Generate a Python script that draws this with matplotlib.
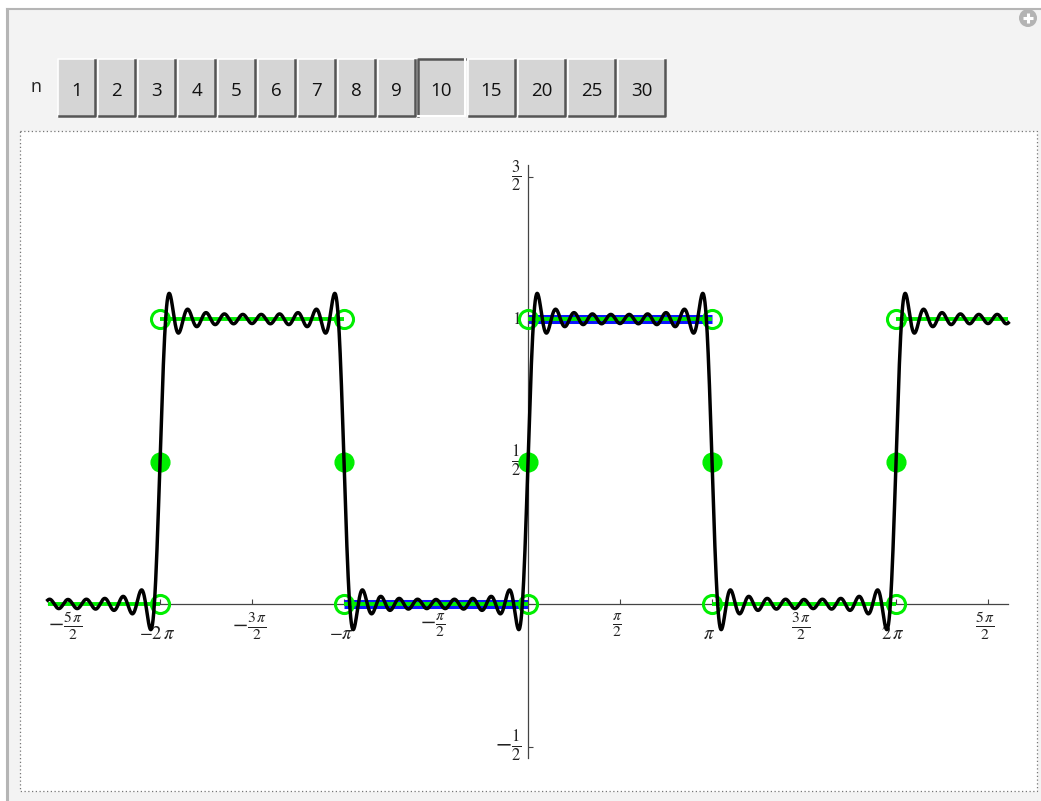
import numpy as np
import matplotlib
matplotlib.use("Agg")
import matplotlib.pyplot as plt
from matplotlib.patches import Rectangle, Circle

plt.rcParams['mathtext.fontset'] = 'stix'

# --- data -------------------------------------------------------------
n_terms = 10                                  # selected button
harmonics = [1, 3, 5, 7, 9, 11, 13, 15, 17, 19]   # odd harmonics used for n = 10
button_labels = ['1', '2', '3', '4', '5', '6', '7', '8', '9', '10', '15', '20', '25', '30']

x_min, x_max = -8.2, 8.2
jumps = [-2*np.pi, -np.pi, 0, np.pi, 2*np.pi]
seg_edges = [x_min, -2*np.pi, -np.pi, 0, np.pi, 2*np.pi, x_max]
seg_levels = [0, 1, 0, 1, 0, 1]
base_edges = [-np.pi, 0, np.pi]                # one period, drawn in blue
base_levels = [0, 1]

xtick_vals = [-2.5*np.pi, -2*np.pi, -1.5*np.pi, -np.pi, -0.5*np.pi,
              0.5*np.pi, np.pi, 1.5*np.pi, 2*np.pi, 2.5*np.pi]
xtick_text = [r'$-\frac{5\,\pi}{2}$', r'$-2\,\pi$', r'$-\frac{3\,\pi}{2}$', r'$-\pi$',
              r'$-\frac{\pi}{2}$', r'$\frac{\pi}{2}$', r'$\pi$', r'$\frac{3\,\pi}{2}$',
              r'$2\,\pi$', r'$\frac{5\,\pi}{2}$']
ytick_vals = [-0.5, 0.5, 1, 1.5]
ytick_text = [r'$-\frac{1}{2}$', r'$\frac{1}{2}$', r'$1$', r'$\frac{3}{2}$']

# partial Fourier sum of the square wave
xs = np.linspace(x_min, x_max, 3000)
ys = 0.5 + sum(2/(np.pi*k)*np.sin(k*xs) for k in harmonics)

# --- figure / panel ---------------------------------------------------
W, H = 1041, 801
fig = plt.figure(figsize=(W/100, H/100), dpi=100)
fig.patch.set_facecolor('white')

ui = fig.add_axes([0, 0, 1, 1])
ui.set_xlim(0, W)
ui.set_ylim(H, 0)
ui.axis('off')

ui.add_patch(Rectangle((7, 9), W, H, facecolor='#f3f3f3', edgecolor='none'))
ui.plot([7, W], [9, 9], color='#b5b5b5', lw=1.5)
ui.plot([7, 7], [9, H], color='#b5b5b5', lw=2.2)

# plus icon
ui.add_patch(Circle((1028, 18), 9, facecolor='#b3b3b3', edgecolor='none'))
ui.plot([1023, 1033], [18, 18], color='white', lw=2.2, solid_capstyle='butt')
ui.plot([1028, 1028], [13, 23], color='white', lw=2.2, solid_capstyle='butt')

ui.text(36, 87, 'n', fontsize=13, family='Open Sans', ha='center', va='center', color='#222222')

# buttons
bx = 58
for lab in button_labels:
    bw = 37 if len(lab) == 1 else 47
    top, bot = 59, 116
    sel = (lab == str(n_terms))
    ui.add_patch(Rectangle((bx, top), bw, bot-top, facecolor='#d5d5d5', edgecolor='none'))
    if sel:
        ui.plot([bx, bx, bx+bw], [bot, top, top], color='#555555', lw=1.8)
        ui.plot([bx, bx+bw, bx+bw], [bot, bot, top], color='white', lw=1.5)
    else:
        ui.plot([bx, bx, bx+bw], [bot, top, top], color='white', lw=1.2)
        ui.plot([bx+1, bx+bw, bx+bw], [bot, bot, top+1], color='#555555', lw=1.8)
    ui.text(bx + bw/2, 91, lab, fontsize=13.5, family='Open Sans', ha='center', va='center',
            color='#111111')
    bx += bw + 3

# plot frame (dotted)
fl, ft, fr, fb = 20, 131, 1037, 791
ui.add_patch(Rectangle((fl, ft), fr-fl, fb-ft, facecolor='white', edgecolor='#777777',
                       lw=0.9, linestyle=(0, (1, 2))))

# --- plot -------------------------------------------------------------
x0_px, px_per_pi = 528, 184.0
y0_px, px_per_unit = 604, 285.0
ax = fig.add_axes([fl/W, 1 - fb/H, (fr-fl)/W, (fb-ft)/H])
ax.set_facecolor('none')
ax.set_xlim((fl - x0_px)/px_per_pi*np.pi, (fr - x0_px)/px_per_pi*np.pi)
ax.set_ylim((y0_px - fb)/px_per_unit, (y0_px - ft)/px_per_unit)

for s in ['top', 'right']:
    ax.spines[s].set_visible(False)
ax.spines['left'].set_position(('data', 0))
ax.spines['bottom'].set_position(('data', 0))
ax.spines['left'].set_bounds(-0.54, 1.54)
ax.spines['bottom'].set_bounds(x_min, x_max)
ax.spines['left'].set_color('#444444')
ax.spines['bottom'].set_color('#444444')
ax.spines['left'].set_linewidth(0.9)
ax.spines['bottom'].set_linewidth(0.9)
ax.tick_params(direction='in', length=3.5, width=0.8, color='#444444')
ax.set_xticks(xtick_vals)
ax.set_xticklabels([])
ax.set_yticks(ytick_vals)
ax.set_yticklabels([])

for xv, t in zip(xtick_vals, xtick_text):
    frac = 'frac' in t
    ax.annotate(t, (xv, 0), xytext=(-2, -5 if frac else -21), textcoords='offset points',
                ha='center', va='top' if frac else 'center',
                fontsize=16 if frac else 13.5, color='#222222')
for yv, t in zip(ytick_vals, ytick_text):
    frac = 'frac' in t
    ax.annotate(t, (0, yv), xytext=(-5, 0), textcoords='offset points',
                ha='right', va='center', fontsize=17 if frac else 12.5, color='#222222')

# square wave: blue base period, green everywhere
for i in range(len(base_levels)):
    ax.plot(base_edges[i:i+2], [base_levels[i]]*2, color='#0a14ff', lw=6.5,
            solid_capstyle='butt', zorder=2)
for i in range(len(seg_levels)):
    ax.plot(seg_edges[i:i+2], [seg_levels[i]]*2, color='#00ee00', lw=2.8,
            solid_capstyle='butt', zorder=3)

ax.plot(jumps, [0]*len(jumps), 'o', ms=13, mfc='none', mec='#00ee00', mew=2.2, zorder=3.5)
ax.plot(jumps, [1]*len(jumps), 'o', ms=13, mfc='none', mec='#00ee00', mew=2.2, zorder=3.5)
ax.plot(jumps, [0.5]*len(jumps), 'o', ms=13.5, mfc='#00ee00', mec='#00ee00', zorder=3.5)

ax.plot(xs, ys, color='black', lw=2.5, zorder=4)

fig.savefig('out.png', dpi=100, facecolor=fig.get_facecolor())
